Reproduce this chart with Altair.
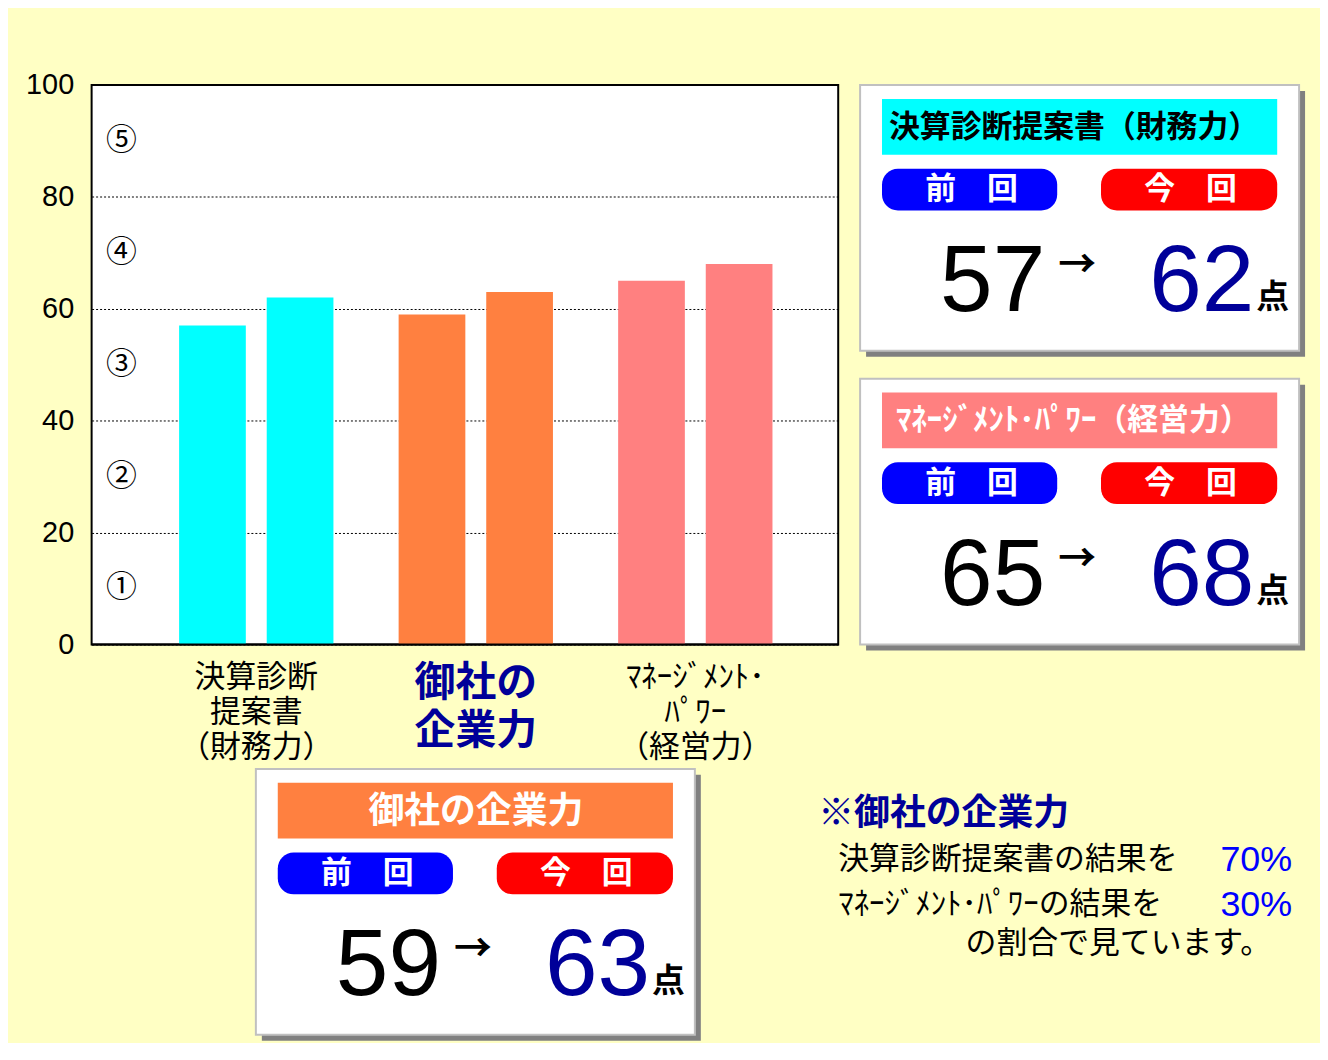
import altair as alt
import pandas as pd

# ---------------- data ----------------
categories = ["決算診断提案書（財務力）", "御社の企業力", "ﾏﾈｰｼﾞﾒﾝﾄ･ﾊﾟﾜｰ（経営力）"]
axis_labels = ["決算診断\n提案書\n（財務力）", "御社の\n企業力", "ﾏﾈｰｼﾞﾒﾝﾄ･\nﾊﾟﾜｰ\n（経営力）"]
periods = ["前回", "今回"]
previous = [57, 59, 65]
current = [62, 63, 68]
bar_colors = ["#00FFFF", "#FF8040", "#FF8080"]
grade_marks = ["①", "②", "③", "④", "⑤"]
grade_mids = [10, 30, 50, 70, 90]
y_ticks = [0, 20, 40, 60, 80, 100]
weight_items = ["決算診断提案書の結果を", "ﾏﾈｰｼﾞﾒﾝﾄ･ﾊﾟﾜｰの結果を"]
weights = [70, 30]
note_title = "※御社の企業力"
note_tail = "の割合で見ています。"

JP = "Noto Sans CJK JP"
NUM = "Liberation Sans, Arial, sans-serif"
DARK_BLUE = "#000099"

bar_df = pd.DataFrame(
    [{"category": c, "period": p, "score": v}
     for c, a, b in zip(categories, previous, current)
     for p, v in zip(periods, [a, b])]
)
score_df = pd.DataFrame({"category": categories, "prev": previous, "curr": current})
label_df = pd.DataFrame({"category": categories, "label": axis_labels})
grade_df = pd.DataFrame({"mark": grade_marks, "mid": grade_mids})
weight_df = pd.DataFrame({"item": weight_items, "weight": weights})
base_df = pd.DataFrame({"score": [0]})
one = pd.DataFrame({"k": [0]})

x_enc = alt.X("category:N", sort=categories, axis=None,
              scale=alt.Scale(paddingInner=0.297, paddingOuter=0.349, align=0.571))
y_scale = alt.Scale(domain=[0, 100], nice=False)
y_axis = alt.Axis(values=y_ticks, grid=True, gridDash=[2, 2], gridColor="black",
                  gridWidth=1, gridOpacity=1, ticks=False, domain=False,
                  labelFont=NUM, labelFontSize=29, labelColor="black",
                  labelPadding=18, labelFlush=False, labelOverlap=False, title=None)

# ---------------- helpers ----------------
def rect(x, y, x2, y2, fill, stroke=None, sw=0, r=0):
    props = dict(fill=fill)
    if stroke:
        props.update(stroke=stroke, strokeWidth=sw)
    if r:
        props["cornerRadius"] = r
    return alt.Chart(one).mark_rect(**props).encode(
        x=alt.value(x), x2=alt.value(x2), y=alt.value(y), y2=alt.value(y2))


def text(t, x, y, size, color="black", weight="normal", align="left",
         baseline="middle", font=JP):
    return alt.Chart(one).mark_text(
        text=t, font=font, fontSize=size, color=color, fontWeight=weight,
        align=align, baseline=baseline).encode(x=alt.value(x), y=alt.value(y))


def field_text(df, field, key, keyval, x, y, size, color="black", weight="normal",
               align="left", baseline="middle", font=JP):
    return alt.Chart(df).transform_filter(
        alt.FieldEqualPredicate(field=key, equal=keyval)
    ).mark_text(font=font, fontSize=size, color=color, fontWeight=weight,
                align=align, baseline=baseline).encode(
        x=alt.value(x), y=alt.value(y), text=f"{field}:N")


def panel(cat, bx, by, header_fill, header_color, header_align, header_x, header_size):
    w, h = 441, 267
    L = []
    L.append(rect(bx + 6, by + 6, bx + w + 6, by + h + 6, "#808080"))
    L.append(rect(bx, by, bx + w, by + h, "white", stroke="#C0C0C0", sw=2))
    L.append(rect(bx + 22, by + 14, bx + 419, by + 70, header_fill))
    L.append(field_text(score_df, "category", "category", cat, bx + header_x, by + 43,
                        header_size, color=header_color, weight="bold", align=header_align))
    L.append(rect(bx + 22, by + 84, bx + 198, by + 126, "#0000FF", r=16))
    L.append(rect(bx + 242, by + 84, bx + 419, by + 126, "#FF0000", r=16))
    L.append(text("前　回", bx + 112, by + 106, 31, color="white", weight="bold", align="center"))
    L.append(text("今　回", bx + 332, by + 106, 31, color="white", weight="bold", align="center"))
    L.append(field_text(score_df, "prev", "category", cat, bx + 186, by + 227, 95,
                        align="right", baseline="alphabetic", font=NUM))
    L.append(text("→", bx + 218, by + 182, 38, weight="bold", align="center"))
    L.append(field_text(score_df, "curr", "category", cat, bx + 396, by + 227, 95,
                        color=DARK_BLUE, align="right", baseline="alphabetic", font=NUM))
    L.append(text("点", bx + 398, by + 224, 33, weight="bold", baseline="alphabetic"))
    return L


# ---------------- chart layers ----------------
bars = alt.Chart(bar_df).mark_bar().encode(
    x=x_enc,
    xOffset=alt.XOffset("period:N", sort=periods,
                        scale=alt.Scale(paddingInner=0.2386, paddingOuter=0)),
    y=alt.Y("score:Q", scale=y_scale, axis=y_axis),
    color=alt.Color("category:N", scale=alt.Scale(domain=categories, range=bar_colors),
                    legend=None),
)

base_rule = alt.Chart(base_df).mark_rule(color="black", strokeWidth=2).encode(
    y=alt.Y("score:Q", scale=y_scale, axis=y_axis))

grades = alt.Chart(grade_df).mark_text(font=JP, fontSize=31, align="center",
                                       baseline="middle", color="black").encode(
    x=alt.value(30),
    y=alt.Y("mid:Q", scale=y_scale, axis=y_axis),
    text="mark:N",
)

side_labels = alt.Chart(label_df).transform_filter(
    alt.datum.category != categories[1]
).mark_text(font=JP, fontSize=31, lineBreak="\n", lineHeight=35, baseline="top",
            align="center", color="black").encode(
    x=x_enc, y=alt.value(581), text="label:N")

mid_label = alt.Chart(label_df).transform_filter(
    alt.datum.category == categories[1]
).mark_text(font=JP, fontSize=41, lineBreak="\n", lineHeight=48, baseline="top",
            align="center", color=DARK_BLUE, fontWeight="bold").encode(
    x=x_enc, y=alt.value(582), text="label:N")

layers = [bars, base_rule, grades, side_labels, mid_label]
layers += panel(categories[0], 772, 0, "#00FFFF", "black", "left", 29, 31)
layers += panel(categories[2], 772, 295, "#FF8080", "white", "left", 36, 31)
layers += panel(categories[1], 165, 687, "#FF8040", "white", "center", 221, 36)

# notes
layers.append(text(note_title, 730, 732, 36, color=DARK_BLUE, weight="bold"))
for item, ny in zip(weight_items, [779, 824]):
    layers.append(field_text(weight_df, "item", "item", item, 750, ny, 31))
    layers.append(
        alt.Chart(weight_df).transform_filter(
            alt.FieldEqualPredicate(field="item", equal=item)
        ).transform_calculate(pct="datum.weight + '%'").mark_text(
            font=NUM, fontSize=36, color="#0000FF", align="right", baseline="middle"
        ).encode(x=alt.value(1206), y=alt.value(ny), text="pct:N")
    )
layers.append(text(note_tail, 878, 863, 31))

chart = alt.layer(*layers).properties(
    width=750,
    height=562,
    background="#FFFFC4",
    padding={"left": 84, "top": 75, "right": 484, "bottom": 398},
    autosize=alt.AutoSizeParams(type="none"),
).configure_view(stroke="black", strokeWidth=2, fill="white")

chart.save("out.html", embed_options={"renderer": "svg", "actions": False})
